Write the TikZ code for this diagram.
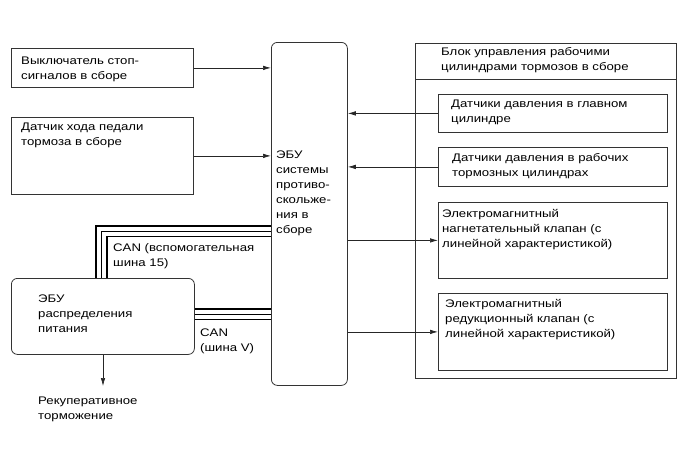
\documentclass[tikz,border=0pt]{standalone}
\usepackage{fontspec}
\setmainfont[FakeStretch=1.2]{Liberation Sans}
\usetikzlibrary{arrows.meta}
\begin{document}
\begin{tikzpicture}[x=1pt,y=-1pt,
  box/.style={draw=black!80,line width=0.8pt,inner sep=0pt,anchor=north west},
  rbox/.style={box,rounded corners=6pt},
  txt/.style={anchor=north west,inner sep=0pt,align=left,font=\fontsize{11}{15}\selectfont},
  arr/.style={draw=black!85,line width=0.7pt,-{Latex[length=8pt,width=4.5pt]}},
  busA/.style={line width=1.3pt},
  busB/.style={line width=0.7pt},
  busC/.style={line width=1.6pt}]
\useasboundingbox (0,0) rectangle (690,464);
% left boxes
\node[box,minimum width=182pt,minimum height=39pt] (b1) at (11,48) {};
\node[txt] (t1) at (21,57) {Выключатель стоп-\\сигналов в сборе};
\node[box,minimum width=182pt,minimum height=77pt] (b2) at (11,117) {};
\node[txt] (t2) at (21,123) {Датчик хода педали\\тормоза в сборе};
% main ECU
\node[rbox,minimum width=76pt,minimum height=343pt] (ecu) at (271,42) {};
\node[txt] (tecu) at (276,151) {ЭБУ\\системы\\противо-\\скольже-\\ния в\\сборе};
% power ECU
\node[rbox,minimum width=183pt,minimum height=76pt] (pecu) at (11,278) {};
\node[txt] (tpecu) at (38,295) {ЭБУ\\распределения\\питания};
% right block
\node[box,minimum width=261pt,minimum height=335pt] (blk) at (415,43) {};
\draw[draw=black!80,line width=0.8pt] (blk.west |- 0,79) -- (blk.east |- 0,79);
\node[txt] (tblk) at (441,47) {Блок управления рабочими\\цилиндрами тормозов в сборе};
\node[box,minimum width=229pt,minimum height=38pt] (bA) at (438,94) {};
\node[txt] (tA) at (451,100) {Датчики давления в главном\\цилиндре};
\node[box,minimum width=229pt,minimum height=39pt] (bB) at (438,147) {};
\node[txt] (tB) at (452,153) {Датчики давления в рабочих\\тормозных цилиндрах};
\node[box,minimum width=229pt,minimum height=76pt] (bC) at (438,202) {};
\node[txt] (tC) at (442,209) {Электромагнитный\\нагнетательный клапан (с\\линейной характеристикой)};
\node[box,minimum width=229pt,minimum height=77pt] (bD) at (438,293) {};
\node[txt] (tD) at (445,299) {Электромагнитный\\редукционный клапан (с\\линейной характеристикой)};
% arrows
\draw[arr] (b1.east) -- (b1.east -| ecu.west);
\draw[arr] (b2.east) -- (b2.east -| ecu.west);
\draw[arr] (bA.west) -- (bA.west -| ecu.east);
\draw[arr] (bB.west) -- (bB.west -| ecu.east);
\draw[arr] (bC.west -| ecu.east) -- (bC.west);
\draw[arr] (bD.west -| ecu.east) -- (bD.west);
% regenerative braking
\coordinate (rek) at (103,386);
\draw[arr] (pecu.south -| rek) -- (rek);
\node[txt] (trek) at (38,397) {Рекуперативное\\торможение};
% CAN bus 15
\draw[busA] (ecu.west |- 0,226) -- (96,226) -- (pecu.north -| 96,0);
\draw[busB] (ecu.west |- 0,231) -- (101,231) -- (pecu.north -| 101,0);
\draw[busC] (ecu.west |- 0,236.5) -- (107,236.5) -- (pecu.north -| 107,0);
\node[txt] (tcan1) at (113,243) {CAN (вспомогательная\\шина 15)};
% CAN bus V
\draw[busA] (pecu.east |- 0,309) -- (ecu.west |- 0,309);
\draw[busB] (pecu.east |- 0,314) -- (ecu.west |- 0,314);
\draw[busC] (pecu.east |- 0,319.5) -- (ecu.west |- 0,319.5);
\node[txt] (tcan2) at (200,329) {CAN\\(шина V)};
\end{tikzpicture}
\end{document}
